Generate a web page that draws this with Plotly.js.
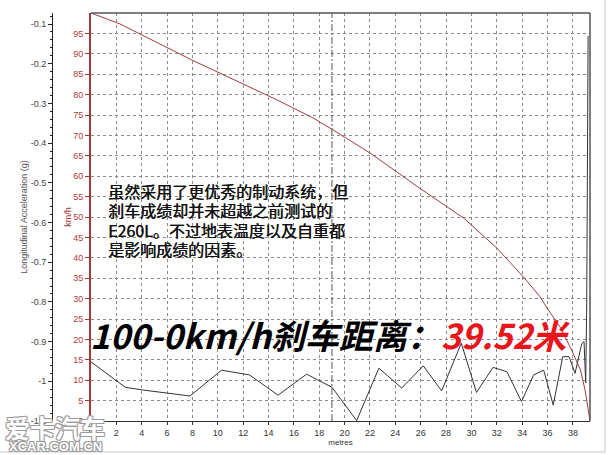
<!DOCTYPE html>
<html><head><meta charset="utf-8">
<script src="https://cdn.plot.ly/plotly-3.0.1.min.js"></script>
<style>html,body{margin:0;padding:0;background:#fff;} #chart{width:608px;height:455px;}</style>
</head><body><div id="chart"></div>
<script>
// ---- data ----
const speedDist = [0, 2.3, 7.94, 13.3, 14.67, 17.5, 18.85, 22.0, 24.1, 25.9, 29.4, 30.7, 32.0, 34.1, 35.4, 36.0, 37.0, 37.9, 38.6, 38.96, 39.2, 39.35];
const speedKmh  = [100, 97.3, 88.5, 80.6, 78.7, 74.3, 71.8, 65.7, 61.1, 57.1, 49.7, 46.1, 42.4, 35.3, 30.5, 27.5, 23.0, 17.4, 12.5, 7.6, 2.7, 0];

const accDist = [0, 1.9, 2.7, 4.1, 7.8, 10.3, 12.5, 14.75, 17.0, 19.0, 20.95, 22.7, 24.5, 26.2, 27.65, 29.2, 30.4, 31.7, 32.8, 33.95, 34.9, 35.7, 36.45, 37.2, 37.7, 38.17, 38.7, 38.88, 39.01, 39.09, 39.2];
const accG    = [-0.951, -0.997, -1.015, -1.022, -1.037, -0.972, -0.984, -1.035, -0.982, -1.015, -1.099, -0.967, -1.017, -0.961, -1.024, -0.904, -1.028, -0.965, -0.976, -1.051, -0.984, -0.972, -1.06, -0.938, -0.938, -0.98, -0.905, -0.90, -1.004, -0.813, -0.13];

const xTicks = [0,2,4,6,8,10,12,14,16,18,20,22,24,26,28,30,32,34,36,38];
const speedTicks = [0,5,10,15,20,25,30,35,40,45,50,55,60,65,70,75,80,85,90,95];
const accTicks = [-0.1,-0.2,-0.3,-0.4,-0.5,-0.6,-0.7,-0.8,-0.9,-1.0,-1.1];
const accTickLabels = ['-0.1','-0.2','-0.3','-0.4','-0.5','-0.6','-0.7','-0.8','-0.9','-1','-1.1'];
const markerDistance = 19;

const paragraphLines = ['虽然采用了更优秀的制动系统，但', '刹车成绩却并未超越之前测试的', 'E260L。不过地表温度以及自重都', '是影响成绩的因素。'];
const headlineMain = '100-0km/h刹车距离：';
const headlineValue = '39.52米';
const watermarkCn = '爱卡汽车';
const watermarkEn = 'XCAR.COM.CN';

// ---- layout helpers (pixel -> paper) ----
const W = 608, H = 455, L = 52, R = 18, T = 13, B = 34;
const PW = W - L - R, PH = H - T - B;
const px = v => (v - L) / PW;
const py = v => (H - B - v) / PH;

const cjk = 'Noto Sans CJK SC, Noto Sans, sans-serif';
const sans = 'Liberation Sans, Arial, sans-serif';

const traces = [
  {x: speedDist, y: speedKmh, type: 'scatter', mode: 'lines', yaxis: 'y', xaxis: 'x',
   line: {color: '#a33a40', width: 1}, hoverinfo: 'skip'},
  {x: accDist, y: accG, type: 'scatter', mode: 'lines', yaxis: 'y2', xaxis: 'x',
   line: {color: '#333', width: 1}, hoverinfo: 'skip'}
];

const annotations = [];
paragraphLines.forEach((t, i) => {
  annotations.push({xref: 'paper', yref: 'paper', x: px(106), y: py(190.5 + i * 19.5),
    xanchor: 'left', yanchor: 'middle', showarrow: false, align: 'left', text: t,
    font: {family: cjk, size: 16, color: '#111', shadow: '0.4px 0 0 #111'}});
});
annotations.push({xref: 'paper', yref: 'paper', x: px(88), y: py(334), xanchor: 'left', yanchor: 'middle',
  showarrow: false, text: headlineMain + '<span style="color:#e8151b">' + headlineValue + '</span>',
  font: {family: cjk, size: 34, weight: 'bold', style: 'italic', color: '#000'}});
const outline = '1px 1px 0 #9a9a9a, -1px -1px 0 #9a9a9a, 1px -1px 0 #9a9a9a, -1px 1px 0 #9a9a9a';
annotations.push({xref: 'paper', yref: 'paper', x: px(55), y: py(427), xanchor: 'center', yanchor: 'middle',
  showarrow: false, text: watermarkCn, font: {family: cjk, size: 25, weight: 'bold', color: '#fff', shadow: outline}});
annotations.push({xref: 'paper', yref: 'paper', x: px(55), y: py(446), xanchor: 'center', yanchor: 'middle',
  showarrow: false, text: watermarkEn, font: {family: sans, size: 13, weight: 'bold', color: '#fff', shadow: outline}});

const shapes = [
  {type: 'line', xref: 'x domain', yref: 'y domain', x0: 0, x1: 1, y0: 1, y1: 1, line: {color: '#555', width: 1.5}},
  {type: 'line', xref: 'x domain', yref: 'y domain', x0: 1, x1: 1, y0: 0, y1: 1, line: {color: '#555', width: 1.5}},
  {type: 'line', xref: 'x', yref: 'y domain', x0: markerDistance, x1: markerDistance, y0: 0, y1: 1,
   line: {color: '#555', width: 1, dash: '7px,2px,2px,2px'}},
  {type: 'line', xref: 'paper', yref: 'paper', x0: px(605), x1: px(605), y0: py(0), y1: py(452), line: {color: '#c8c8c8', width: 1}},
  {type: 'line', xref: 'paper', yref: 'paper', x0: px(0), x1: px(605), y0: py(452), y1: py(452), line: {color: '#c8c8c8', width: 1}}
];

const layout = {
  width: W, height: H, margin: {l: L, r: R, t: T, b: B, pad: 0},
  paper_bgcolor: '#fff', plot_bgcolor: '#fff', showlegend: false,
  font: {family: sans, size: 9, color: '#333'},
  xaxis: {domain: [px(91) , 1], range: [0, 39.35], tickvals: xTicks, ticks: 'outside', ticklen: 3, tickcolor: '#333',
    showline: true, linecolor: '#333', linewidth: 1, showgrid: true, gridcolor: '#8a8a8a', griddash: 'dot', gridwidth: 1,
    zeroline: false, tickfont: {size: 9, color: '#333'},
    title: {text: 'metres', font: {size: 8, color: '#333'}, standoff: 2}},
  yaxis: {anchor: 'x', range: [0, 100], tickvals: speedTicks, ticks: 'outside', ticklen: 4, tickcolor: '#a33a3a',
    showline: true, linecolor: '#a33a3a', linewidth: 2, showgrid: true, gridcolor: '#8a8a8a', griddash: 'dot', gridwidth: 1,
    zeroline: false, tickfont: {size: 9, color: '#b43a3a'},
    title: {text: 'km/h', font: {size: 9, color: '#a33a3a'}, standoff: 0}},
  yaxis2: {overlaying: 'y', anchor: 'free', position: 0, side: 'left', range: [-1.1, -0.0723],
    tickvals: accTicks, ticktext: accTickLabels, ticks: 'outside', ticklen: 4, tickcolor: '#222',
    showline: true, linecolor: '#222', linewidth: 1, showgrid: false, zeroline: false,
    tickfont: {size: 9, color: '#444'},
    minor: {ticks: 'outside', ticklen: 2, dtick: 0.02, tick0: 0, tickcolor: '#222'},
    title: {text: 'Longitudinal Acceleration (g)', font: {size: 9, color: '#555'}, standoff: 0}},
  shapes: shapes,
  annotations: annotations
};

Plotly.newPlot('chart', traces, layout, {staticPlot: true, displayModeBar: false});
</script>
</body></html>
